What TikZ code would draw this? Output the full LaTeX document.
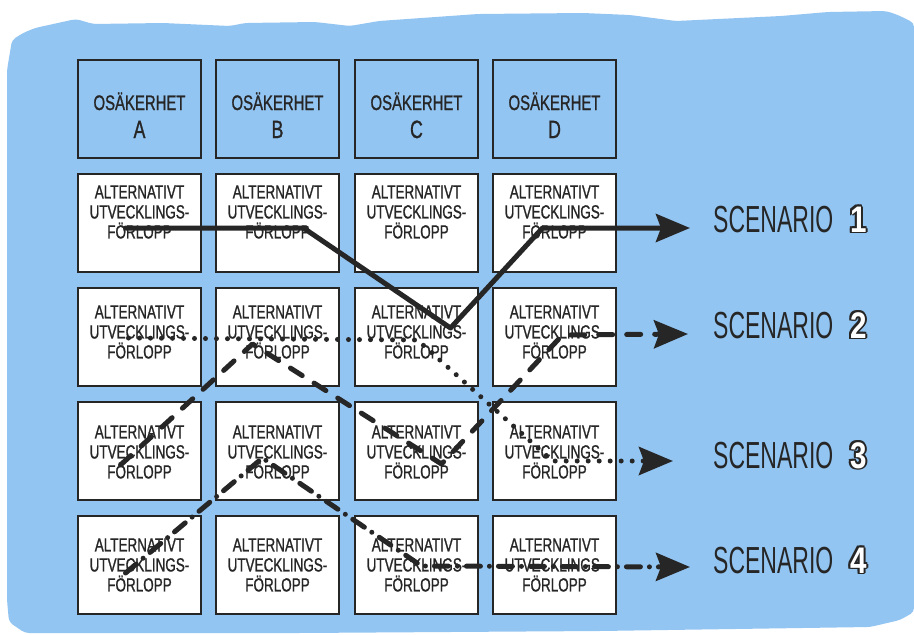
\documentclass[tikz,border=0pt]{standalone}
\usepackage{fontspec}
\setmainfont{Liberation Sans}
\newfontfamily\handfont[FakeStretch=0.71,FakeBold=1]{Liberation Sans}
\newfontfamily\scenfont[FakeStretch=0.61]{Liberation Sans}
\newfontfamily\numfont[FakeStretch=0.8]{Liberation Sans}
\usetikzlibrary{arrows.meta,positioning}
\definecolor{skyblue}{RGB}{147,197,242}
\definecolor{ink}{RGB}{38,38,38}
\tikzset{
  hdrbox/.style={rectangle,draw=ink,fill=skyblue,line width=2pt,
                 minimum width=123pt,minimum height=98pt,inner sep=0pt},
  altbox/.style={hdrbox,fill=white},
  alttext/.style={font=\handfont\fontsize{19}{20}\selectfont,
                  align=center,text=ink,inner sep=0pt},
  hdrtext/.style={font=\handfont\fontsize{21}{22}\selectfont,
                  text=ink,inner sep=0pt,anchor=base},
  scenline/.style={line width=5pt,draw=ink,line cap=round,line join=round,
                   -{Stealth[length=34pt,width=28pt,inset=5pt]}},
  dashline/.style={scenline,dash pattern=on 14pt off 14pt},
  dotline/.style={scenline,dash pattern=on 0pt off 11pt},
  dashdotline/.style={scenline,dash pattern=on 14pt off 9pt on 0pt off 9pt},
  scentext/.style={font=\scenfont\fontsize{37.7}{40}\selectfont,text=ink,
                   anchor=base west,inner sep=0pt},
  numtext/.style={font=\numfont\bfseries\fontsize{37}{40}\selectfont,
                  anchor=base west,inner sep=0pt},
}
\begin{document}
\begin{tikzpicture}[x=1pt,y=-1pt]
    \useasboundingbox (0,0) rectangle (914,635);
    \fill[skyblue,rounded corners=4pt] (7,600) -- (7,70) -- (12,40) -- (23,33)
      -- (35,28) -- (76,19) -- (93,24) -- (163,23) -- (230,26) -- (245,23)
      -- (315,22) -- (350,26) -- (379,21) -- (478,14) -- (583,13) -- (630,15)
      -- (676,21) -- (781,16) -- (828,12) -- (886,11) -- (898,15) -- (914,23)
      -- (914,612) -- (900,620) -- (870,627) -- (600,631) -- (300,633)
      -- (25,633) -- (9,622) -- cycle;
    \foreach \c/\x/\l in {1/139.5/A,2/277.5/B,3/416.5/C,4/554.5/D}{
      \node[hdrbox] (h\c) at (\x,109) {};
      \node[hdrtext] (hw\c) at (\x,110) {OSÄKERHET};
      \node[hdrtext,font=\handfont\fontsize{25}{25}\selectfont] (hl\c) at (\x,138) {\l};
    }
    \foreach \r/\up in {1/11,2/5,3/-1,4/0}{
      \foreach \c/\x in {1/139.5,2/277.5,3/416.5,4/554.5}{
        \node[altbox] (b\r\c) at (\x,{223+114*(\r-1)}) {};
        \node[alttext] (t\r\c) at ([yshift=\up pt]b\r\c.center)
             {ALTERNATIVT\\UTVECKLINGS-\\FÖRLOPP};
      }
    }
    \coordinate (tip1) at (690,228);
    \coordinate (tip2) at (688,334);
    \coordinate (tip3) at (673,461);
    \coordinate (tip4) at (690,567);
    \draw[scenline] ([shift={(-14,5)}]b11.center) -- ([shift={(26,5)}]b12.center)
      -- ([shift={(34,-9)}]b23.center) -- ([shift={(-12,5)}]b14.center) -- (tip1);
    \draw[dashline] ([shift={(-19,14)}]b31.center) -- ([shift={(-25,7)}]b22.center)
      -- ([shift={(25,13)}]b33.center) -- ([shift={(8,-2)}]b24.center) -- (tip2);
    \draw[dotline] ([shift={(-11,1)}]b21.center) -- ([shift={(1,3)}]b23.center)
      -- ([shift={(-2,10)}]b34.center) -- (tip3);
    \draw[dashdotline] ([shift={(-14,8)}]b41.center) -- ([shift={(-15,7)}]b32.center)
      -- ([shift={(5,1)}]b43.center) -- (tip4);
    \foreach \i/\yb in {1/232,2/338,3/468,4/573}{
      \node[scentext] (sc\i) at (713,\yb) {SCENARIO};
      \foreach \a in {0,45,...,315}
        \node[numtext,text=ink] (o\i\a) at ([shift={(\a:1.9)}]850,\yb) {\i};
      \node[numtext,text=white] (n\i) at (850,\yb) {\i};
    }
\end{tikzpicture}
\end{document}
